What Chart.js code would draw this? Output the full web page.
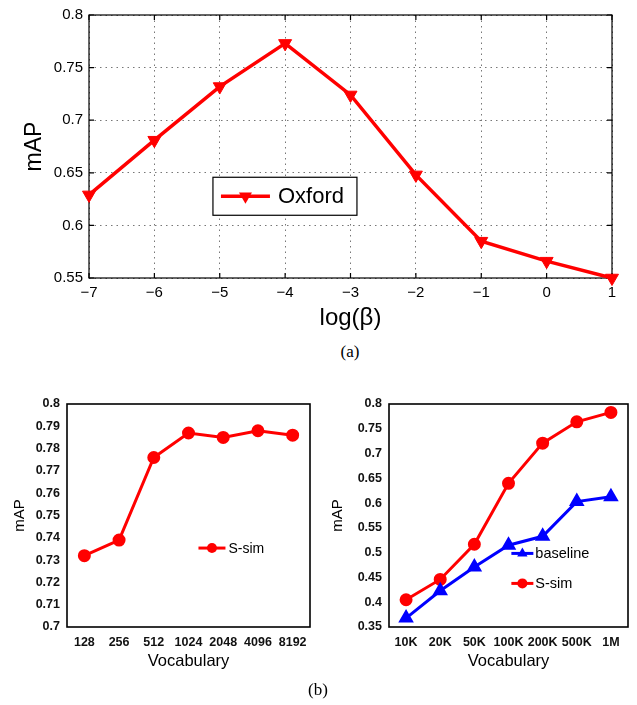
<!DOCTYPE html>
<html><head><meta charset="utf-8">
<script src="https://cdn.jsdelivr.net/npm/chart.js@4/dist/chart.umd.min.js"></script>
<style>
html,body{margin:0;padding:0;background:#fff;width:637px;height:705px;overflow:hidden;position:relative}
canvas{position:absolute}
.cap{position:absolute;font-family:"Liberation Serif","Times New Roman",serif;font-size:17px;color:#000;transform:translate(-50%,-50%);white-space:nowrap}
</style></head><body>
<canvas id="c1" width="637" height="340" style="left:0;top:0"></canvas>
<div class="cap" style="left:350px;top:352px">(a)</div>
<canvas id="c2" width="318" height="305" style="left:0;top:380px"></canvas>
<canvas id="c3" width="319" height="305" style="left:318px;top:380px"></canvas>
<div class="cap" style="left:318px;top:690px">(b)</div>
<script>
// ---- data ----
const betaLogs = [-7, -6, -5, -4, -3, -2, -1, 0, 1];
const oxfordMAP = [0.629, 0.681, 0.732, 0.773, 0.724, 0.648, 0.585, 0.566, 0.550];
const vocabSmall = ['128', '256', '512', '1024', '2048', '4096', '8192'];
const ssimSmall = [0.732, 0.739, 0.776, 0.787, 0.785, 0.788, 0.786];
const vocabLarge = ['10K', '20K', '50K', '100K', '200K', '500K', '1M'];
const baselineLarge = [0.368, 0.423, 0.471, 0.515, 0.533, 0.603, 0.613];
const ssimLarge = [0.405, 0.446, 0.517, 0.640, 0.721, 0.764, 0.783];

const SANS = '"Liberation Sans", Arial, Helvetica, sans-serif';
const RED = '#ff0000', BLUE = '#0000ff';

// frame + inward ticks
const framePlugin = {
  id: 'frame',
  beforeDatasetsDraw(chart, args, o) {
    const {ctx, chartArea: a} = chart;
    ctx.save();
    ctx.strokeStyle = '#000';
    ctx.lineWidth = o.width || 1;
    ctx.setLineDash([]);
    if (o.tickLen) {
      const L = o.tickLen, xs = chart.scales.x, ys = chart.scales.y;
      ctx.beginPath();
      xs.ticks.forEach(t => {
        const p = xs.getPixelForValue(t.value);
        ctx.moveTo(p, a.bottom); ctx.lineTo(p, a.bottom - L);
        ctx.moveTo(p, a.top); ctx.lineTo(p, a.top + L);
      });
      ys.ticks.forEach(t => {
        const p = ys.getPixelForValue(t.value);
        ctx.moveTo(a.left, p); ctx.lineTo(a.left + L, p);
        ctx.moveTo(a.right, p); ctx.lineTo(a.right - L, p);
      });
      ctx.stroke();
    }
    ctx.strokeRect(a.left, a.top, a.right - a.left, a.bottom - a.top);
    ctx.restore();
  }
};

function drawMarker(ctx, style, rot, x, y, r, color) {
  ctx.fillStyle = color; ctx.strokeStyle = color;
  ctx.beginPath();
  if (style === 'circle') ctx.arc(x, y, r, 0, Math.PI * 2);
  else {
    let ang = (rot || 0) * Math.PI / 180;
    for (let k = 0; k < 3; k++) {
      const px = x + Math.sin(ang) * r, py = y - Math.cos(ang) * r;
      k ? ctx.lineTo(px, py) : ctx.moveTo(px, py);
      ang += 2 * Math.PI / 3;
    }
  }
  ctx.closePath(); ctx.fill();
}

const legendPlugin = {
  id: 'inLegend',
  afterDraw(chart, args, o) {
    if (!o.items) return;
    const {ctx, chartArea: a} = chart;
    const x0 = a.left + o.x * (a.right - a.left);
    const y0 = a.top + o.y * (a.bottom - a.top);
    ctx.save();
    if (o.box) {
      ctx.fillStyle = '#fff'; ctx.strokeStyle = '#000'; ctx.lineWidth = 1.2;
      ctx.fillRect(x0, y0, o.box.w, o.box.h);
      ctx.strokeRect(x0, y0, o.box.w, o.box.h);
    }
    o.items.forEach((idx, i) => {
      const ds = chart.data.datasets[idx];
      const cy = y0 + o.rowY + i * (o.rowGap || 0);
      ctx.strokeStyle = ds.borderColor; ctx.lineWidth = ds.borderWidth;
      ctx.beginPath();
      ctx.moveTo(x0 + o.lineX, cy); ctx.lineTo(x0 + o.lineX + o.lineLen, cy);
      ctx.stroke();
      drawMarker(ctx, ds.pointStyle, ds.rotation, x0 + o.lineX + o.lineLen / 2, cy, ds.pointRadius, ds.borderColor);
      ctx.fillStyle = '#000';
      ctx.font = o.font;
      ctx.textBaseline = 'middle'; ctx.textAlign = 'left';
      ctx.fillText(ds.label, x0 + o.textX, cy + 1);
    });
    ctx.restore();
  }
};

Chart.register(framePlugin, legendPlugin);
const fmt = v => String(+Number(v).toFixed(2));

// ---- chart (a) ----
new Chart(document.getElementById('c1'), {
  type: 'line',
  data: {
    datasets: [{
      label: 'Oxford',
      data: betaLogs.map((x, i) => ({x, y: oxfordMAP[i]})),
      borderColor: RED, backgroundColor: RED, borderWidth: 3.5,
      pointStyle: 'triangle', rotation: 180, pointRadius: 7.5,
      pointBackgroundColor: RED, pointBorderColor: RED, pointBorderWidth: 1,
      tension: 0, clip: false
    }]
  },
  options: {
    responsive: false, animation: false, devicePixelRatio: 1,
    layout: {padding: {top: 14, right: 25, left: 0, bottom: 0}},
    plugins: {
      legend: {display: false}, tooltip: {enabled: false},
      frame: {width: 1.2, tickLen: 5},
      inLegend: {x: 0.237, y: 0.617, box: {w: 144, h: 38}, items: [0], lineX: 8, lineLen: 49, textX: 65, rowY: 19, font: '22px ' + SANS}
    },
    scales: {
      x: {
        type: 'linear', min: -7, max: 1,
        afterFit: s => { s.height = 62; },
        ticks: {stepSize: 1, padding: 6, color: '#000', font: {family: SANS, size: 15},
          callback: v => (v < 0 ? '\u2212' + Math.abs(v) : String(v))},
        grid: {color: '#777', lineWidth: 1, drawTicks: false},
        border: {display: false, dash: [1.5, 4]},
        title: {display: true, text: 'log(\u03b2)', color: '#000', font: {family: SANS, size: 24}, padding: {top: 0, bottom: 7}}
      },
      y: {
        min: 0.55, max: 0.8,
        afterFit: s => { s.width = 89; },
        ticks: {stepSize: 0.05, padding: 6, color: '#000', font: {family: SANS, size: 15}, callback: fmt},
        grid: {color: '#777', lineWidth: 1, drawTicks: false},
        border: {display: false, dash: [1.5, 4]},
        title: {display: true, text: 'mAP', color: '#000', font: {family: SANS, size: 23}, padding: {top: 21, bottom: 0}}
      }
    }
  }
});

// ---- chart (b) left ----
function smallOpts(yMin, yMax, step, yW, padRight, legend) {
  return {
    responsive: false, animation: false, devicePixelRatio: 1,
    layout: {padding: {top: 24, right: padRight, left: 0, bottom: 0}},
    plugins: {legend: {display: false}, tooltip: {enabled: false}, frame: {width: 1.6}, inLegend: legend},
    scales: {
      x: {
        type: 'category', offset: true,
        afterFit: s => { s.height = 58; },
        ticks: {padding: 8, color: '#111', font: {family: SANS, size: 12.5, weight: 'bold'}, maxRotation: 0, autoSkip: false},
        grid: {display: false, drawTicks: false}, border: {display: false},
        title: {display: true, text: 'Vocabulary', color: '#000', font: {family: SANS, size: 16.5}, padding: {top: 0, bottom: 14}}
      },
      y: {
        min: yMin, max: yMax,
        afterFit: s => { s.width = yW; },
        ticks: {stepSize: step, padding: 7, color: '#111', font: {family: SANS, size: 12.5, weight: 'bold'}, callback: fmt},
        grid: {display: false, drawTicks: false}, border: {display: false},
        title: {display: true, text: 'mAP', color: '#000', font: {family: SANS, size: 15}, padding: {top: 11, bottom: 0}}
      }
    }
  };
}

new Chart(document.getElementById('c2'), {
  type: 'line',
  data: {
    labels: vocabSmall,
    datasets: [{
      label: 'S-sim', data: ssimSmall,
      borderColor: RED, backgroundColor: RED, borderWidth: 3,
      pointStyle: 'circle', pointRadius: 5, pointBackgroundColor: RED, pointBorderColor: RED,
      tension: 0, clip: false
    }]
  },
  options: smallOpts(0.7, 0.8, 0.01, 67, 5,
    {x: 0.541, y: 0.646, items: [0], lineX: 0, lineLen: 27, textX: 30, rowY: 0, font: '14px ' + SANS})
});

new Chart(document.getElementById('c3'), {
  type: 'line',
  data: {
    labels: vocabLarge,
    datasets: [{
      label: 'baseline', data: baselineLarge,
      borderColor: BLUE, backgroundColor: BLUE, borderWidth: 3,
      pointStyle: 'triangle', rotation: 0, pointRadius: 6, pointBackgroundColor: BLUE, pointBorderColor: BLUE,
      tension: 0, clip: false
    }, {
      label: 'S-sim', data: ssimLarge,
      borderColor: RED, backgroundColor: RED, borderWidth: 3,
      pointStyle: 'circle', pointRadius: 5, pointBackgroundColor: RED, pointBorderColor: RED,
      tension: 0, clip: false
    }]
  },
  options: smallOpts(0.35, 0.8, 0.05, 71, 2,
    {x: 0.512, y: 0.67, items: [0, 1], rowGap: 30, lineX: 0, lineLen: 22, textX: 24, rowY: 0, font: '14.5px ' + SANS})
});
</script>
</body></html>
